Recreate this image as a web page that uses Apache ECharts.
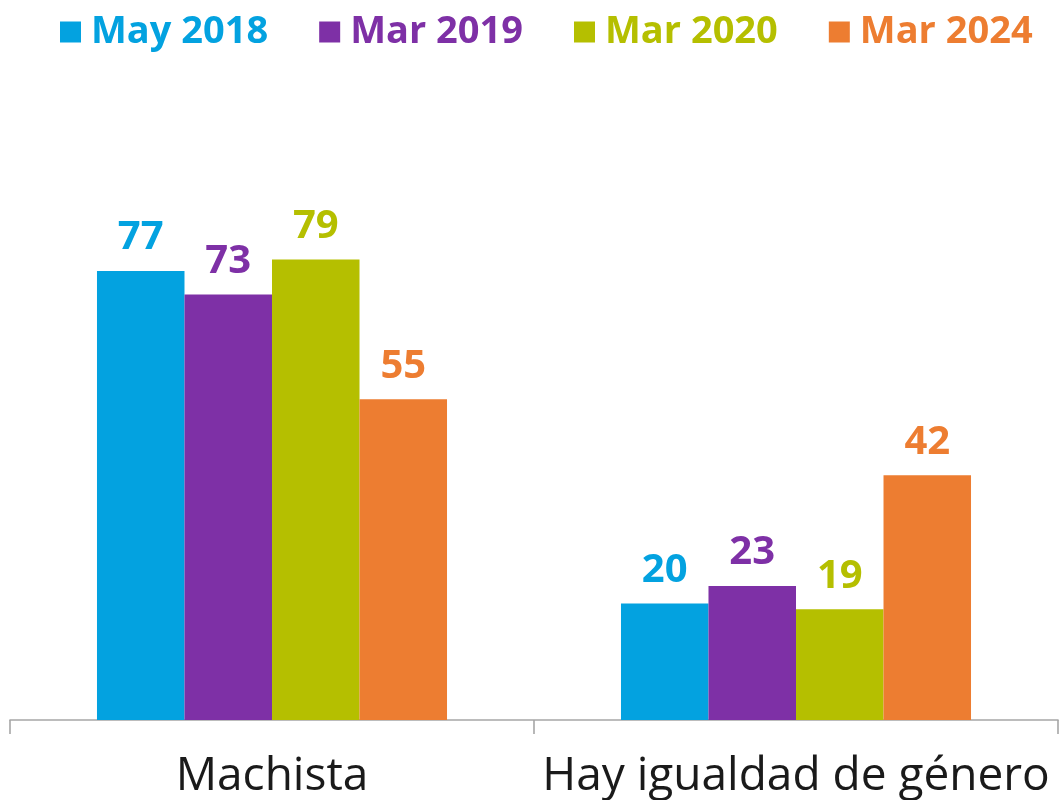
<!DOCTYPE html>
<html>
<head>
<meta charset="utf-8">
<script src="https://cdn.jsdelivr.net/npm/echarts@6/dist/echarts.min.js"></script>
<style>
  html, body { margin: 0; padding: 0; background: #fff; }
  #chart { width: 1060px; height: 800px; }
</style>
</head>
<body>
<div id="chart"></div>
<script>
// categorías y series
const categories = ['Machista', 'Hay igualdad de género'];
const seriesNames = ['May 2018', 'Mar 2019', 'Mar 2020', 'Mar 2024'];
const may2018 = [77, 20];
const mar2019 = [73, 23];
const mar2020 = [79, 19];
const mar2024 = [55, 42];
const colors = ['#03A2E0', '#7E30A6', '#B5BF00', '#ED7D31'];

const font = '"Open Sans", "Noto Sans", sans-serif';
const chart = echarts.init(document.getElementById('chart'));

const makeSeries = (name, data, i) => ({
  name: name,
  type: 'bar',
  data: data,
  barGap: 0,
  barCategoryGap: '33.2%',
  itemStyle: { color: colors[i] },
  label: {
    show: true,
    position: 'top',
    distance: 13,
    color: colors[i],
    fontFamily: font,
    fontWeight: 'bold',
    fontSize: 40,
    lineHeight: 40
  }
});

const option = {
  animation: false,
  legend: {
    left: 55,
    top: 8,
    itemWidth: 21,
    itemHeight: 21,
    itemGap: 51,
    icon: 'rect',
    textStyle: {
      fontFamily: font,
      fontWeight: 'bold',
      fontSize: 38,
      lineHeight: 38,
      padding: [0, 0, 0, 5],
      color: 'inherit'
    },
    data: seriesNames
  },
  grid: { left: 10, right: 2, top: 137, bottom: 80 },
  xAxis: {
    type: 'category',
    data: categories,
    axisLine: { lineStyle: { color: '#A6A6A6', width: 1.6 } },
    axisTick: { show: true, length: 14, lineStyle: { color: '#A6A6A6', width: 1.6 } },
    axisLabel: {
      interval: 0,
      color: '#1a1a1a',
      fontFamily: font,
      fontSize: 46,
      lineHeight: 46,
      margin: 34
    }
  },
  yAxis: {
    type: 'value',
    min: 0,
    max: 100,
    show: false,
    splitLine: { show: false }
  },
  series: [
    makeSeries(seriesNames[0], may2018, 0),
    makeSeries(seriesNames[1], mar2019, 1),
    makeSeries(seriesNames[2], mar2020, 2),
    makeSeries(seriesNames[3], mar2024, 3)
  ]
};

chart.setOption(option);
</script>
</body>
</html>
